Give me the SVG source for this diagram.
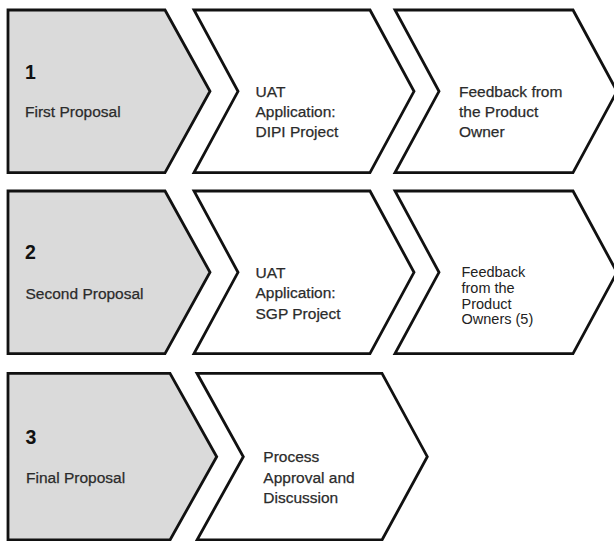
<svg xmlns="http://www.w3.org/2000/svg" width="614" height="541" viewBox="0 0 614 541">
  <style>
    .stage { fill: #dadada; stroke: #111; stroke-width: 2.8; stroke-linejoin: miter; }
    .step { fill: #fff; stroke: #111; stroke-width: 2.8; stroke-linejoin: miter; }
    text { font-family: "Liberation Sans", Arial, sans-serif; fill: #2b2b2b; stroke: #2b2b2b; stroke-width: 0.25; font-size: 15.5px; }
    .num { font-weight: bold; font-size: 19.5px; fill: #111; stroke: none; }
    .small { font-size: 14.5px; stroke: none; fill: #222; }
  </style>
  <rect width="614" height="541" fill="#fff"/>

  <!-- Row 1 -->
  <g id="stage-1">
    <polygon class="stage" points="8,10 165,10 210,91.3 165,172.7 8,172.7"/>
    <text class="num" x="25" y="79">1</text>
    <text x="25" y="117.3">First Proposal</text>
  </g>
  <g id="uat-dipi">
    <polygon class="step" points="194,10 370,10 414,91.3 370,172.7 194,172.7 238,91.3"/>
    <text x="255.5" y="96.7">UAT</text>
    <text x="255.5" y="116.9">Application:</text>
    <text x="255.5" y="137.1">DIPI Project</text>
  </g>
  <g id="feedback-owner">
    <polygon class="step" points="395,10 573,10 617,91.3 573,172.7 395,172.7 439,91.3"/>
    <text x="459" y="96.7">Feedback from</text>
    <text x="459" y="116.9">the Product</text>
    <text x="459" y="137.1">Owner</text>
  </g>

  <!-- Row 2 -->
  <g id="stage-2">
    <polygon class="stage" points="8,191 165,191 210,272.3 165,353.7 8,353.7"/>
    <text class="num" x="25" y="259.3">2</text>
    <text x="25.5" y="299">Second Proposal</text>
  </g>
  <g id="uat-sgp">
    <polygon class="step" points="194,191 370,191 414,272.3 370,353.7 194,353.7 238,272.3"/>
    <text x="255.5" y="277.5">UAT</text>
    <text x="255.5" y="298.3">Application:</text>
    <text x="255.5" y="319.1">SGP Project</text>
  </g>
  <g id="feedback-owners">
    <polygon class="step" points="395,191 573,191 617,272.3 573,353.7 395,353.7 439,272.3"/>
    <text class="small" x="461.5" y="276.7">Feedback</text>
    <text class="small" x="461.5" y="292.6">from the</text>
    <text class="small" x="461.5" y="308.5">Product</text>
    <text class="small" x="461.5" y="324.4">Owners (5)</text>
  </g>

  <!-- Row 3 -->
  <g id="stage-3">
    <polygon class="stage" points="8,373.3 170,373.3 216.7,456.7 170,540 8,540"/>
    <text class="num" x="25.5" y="444">3</text>
    <text x="26" y="483.3">Final Proposal</text>
  </g>
  <g id="approval">
    <polygon class="step" points="197,373.3 382,373.3 427.3,456.7 382,540 197,540 243.3,456.7"/>
    <text x="263.3" y="461.7">Process</text>
    <text x="263.3" y="482.5">Approval and</text>
    <text x="263.3" y="503.3">Discussion</text>
  </g>

  <g id="connectors"/>
</svg>
